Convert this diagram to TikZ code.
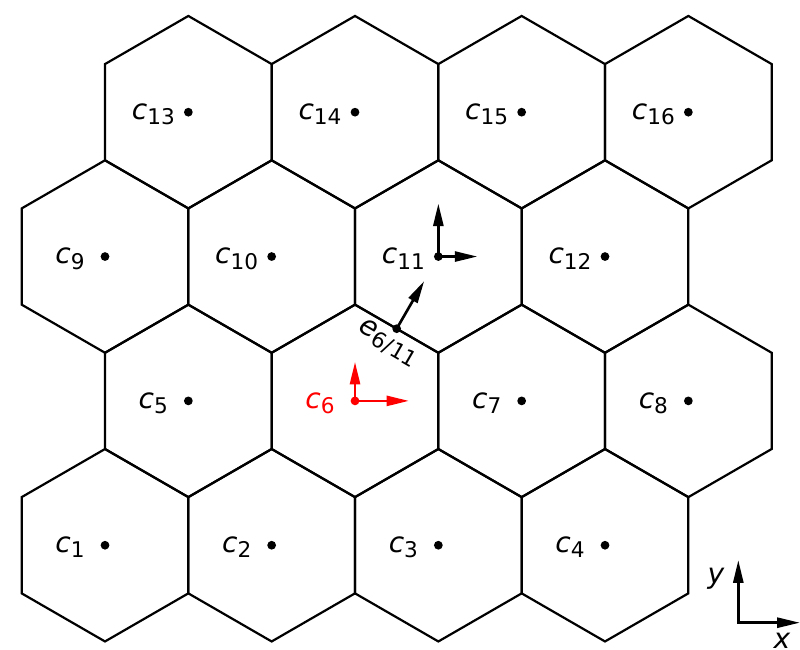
\documentclass[tikz,border=0pt]{standalone}
\usepackage{fontspec}
\setmainfont{DejaVu Sans}
\usetikzlibrary{arrows.meta,calc,shapes.geometric}
\newcommand{\subidx}[1]{\raisebox{-3pt}{\fontsize{12.3}{14}\selectfont #1}}
\newcommand{\cname}[1]{{\itshape c}\subidx{#1}}
\tikzset{
  cell/.style={
    draw, regular polygon, regular polygon sides=6, shape border rotate=30,
    minimum size=38.49mm, inner sep=0pt, line width=1.25pt
  },
  dot/.style={circle, fill, minimum size=1.75mm, inner sep=0pt},
  lbl/.style={font=\fontsize{16}{19}\selectfont, inner sep=0pt, anchor=base, xshift=-7mm, yshift=-1.45mm},
  vec/.style={-{Triangle[length=4.5mm,width=2mm]}, line width=1.5pt},
  axis/.style={{Triangle[length=4.6mm,width=2mm]}-{Triangle[length=4.6mm,width=2mm]}, line width=1.6pt},
  axlbl/.style={font=\fontsize{16}{19}\selectfont\itshape, inner sep=0pt}
}
\begin{document}
\begin{tikzpicture}
  \useasboundingbox (0,0) rectangle (16,13);

  % bottom row
  \node[cell] (cell1) at (2.1,2.095) {};
  \node[cell] (cell2) at (5.433,2.095) {};
  \node[cell] (cell3) at (8.767,2.095) {};
  \node[cell] (cell4) at (12.1,2.095) {};
  % second row
  \node[cell] (cell5) at (3.767,4.982) {};
  \node[cell] (cell6) at (7.1,4.982) {};
  \node[cell] (cell7) at (10.433,4.982) {};
  \node[cell] (cell8) at (13.767,4.982) {};
  % third row
  \node[cell] (cell9) at (2.1,7.869) {};
  \node[cell] (cell10) at (5.433,7.869) {};
  \node[cell] (cell11) at (8.767,7.869) {};
  \node[cell] (cell12) at (12.1,7.869) {};
  % top row
  \node[cell] (cell13) at (3.767,10.756) {};
  \node[cell] (cell14) at (7.1,10.756) {};
  \node[cell] (cell15) at (10.433,10.756) {};
  \node[cell] (cell16) at (13.767,10.756) {};

  % cell centres
  \node[dot] (c1) at (cell1) {};    \node[lbl] (l1) at (c1) {\cname{1}};
  \node[dot] (c2) at (cell2) {};    \node[lbl] (l2) at (c2) {\cname{2}};
  \node[dot] (c3) at (cell3) {};    \node[lbl] (l3) at (c3) {\cname{3}};
  \node[dot] (c4) at (cell4) {};    \node[lbl] (l4) at (c4) {\cname{4}};
  \node[dot] (c5) at (cell5) {};    \node[lbl] (l5) at (c5) {\cname{5}};
  \node[dot, red] (c6) at (cell6) {};
  \node[lbl, red] (l6) at (c6) {\cname{6}};
  \node[dot] (c7) at (cell7) {};    \node[lbl] (l7) at (c7) {\cname{7}};
  \node[dot] (c8) at (cell8) {};    \node[lbl] (l8) at (c8) {\cname{8}};
  \node[dot] (c9) at (cell9) {};    \node[lbl] (l9) at (c9) {\cname{9}};
  \node[dot] (c10) at (cell10) {};  \node[lbl] (l10) at (c10) {\cname{10}};
  \node[dot] (c11) at (cell11) {};  \node[lbl] (l11) at (c11) {\cname{11}};
  \node[dot] (c12) at (cell12) {};  \node[lbl] (l12) at (c12) {\cname{12}};
  \node[dot] (c13) at (cell13) {};  \node[lbl] (l13) at (c13) {\cname{13}};
  \node[dot] (c14) at (cell14) {};  \node[lbl] (l14) at (c14) {\cname{14}};
  \node[dot] (c15) at (cell15) {};  \node[lbl] (l15) at (c15) {\cname{15}};
  \node[dot] (c16) at (cell16) {};  \node[lbl] (l16) at (c16) {\cname{16}};

  % local frames
  \coordinate (c6x) at ($(c6)+(1.08,0)$);
  \coordinate (c6y) at ($(c6)+(0,0.78)$);
  \draw[vec, red] (c6.center) -- (c6x);
  \draw[vec, red] (c6.center) -- (c6y);
  \coordinate (c11x) at ($(c11)+(0.78,0)$);
  \coordinate (c11y) at ($(c11)+(0,1.06)$);
  \draw[vec] (c11.center) -- (c11x);
  \draw[vec] (c11.center) -- (c11y);

  % edge between c6 and c11
  \node[dot] (e611) at ($(c6)!0.5!(c11)$) {};
  \coordinate (e611n) at ($(e611)!1.1cm!(c11)$);
  \draw[vec] (e611.center) -- (e611n);
  \node[font=\fontsize{16}{19}\selectfont, rotate=-30, anchor=north, inner sep=3pt] (le611) at (e611) {{\itshape e}\subidx{6/11}};

  % global axes
  \coordinate (ax0) at (14.766,0.546);
  \coordinate (axx) at (16.0,0.546);
  \coordinate (axy) at (14.766,1.80);
  \draw[axis] (axy) -- (ax0) -- (axx);
  \node[axlbl] (ylbl) at (14.32,1.42) {y};
  \node[axlbl] (xlbl) at (15.64,0.19) {x};
\end{tikzpicture}
\end{document}
